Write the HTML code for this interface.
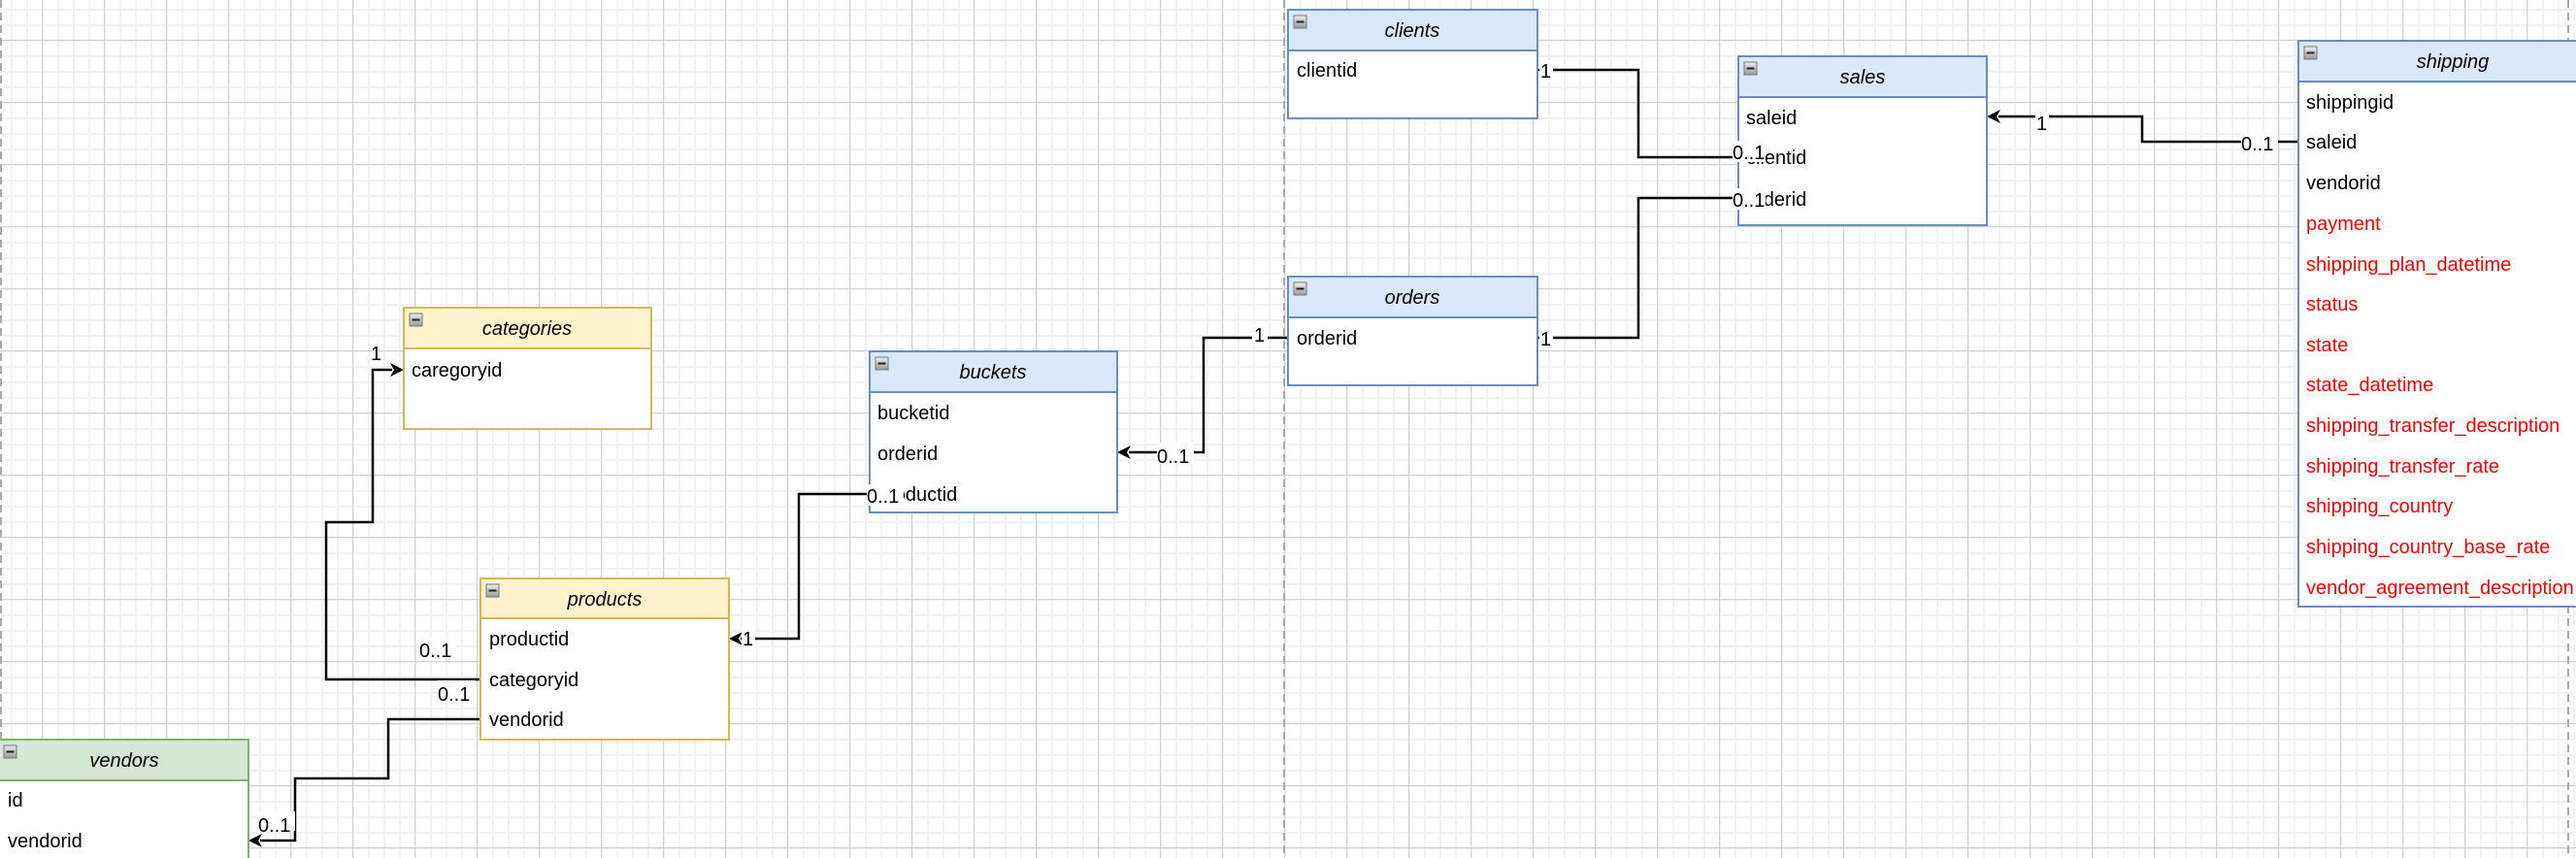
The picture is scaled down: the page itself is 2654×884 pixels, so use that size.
<!DOCTYPE html>
<html><head><meta charset="utf-8"><style>
html,body{margin:0;padding:0;}
body{width:2654px;height:884px;overflow:hidden;background-color:#fff;
background-image:linear-gradient(to right,#d0d0d0 1px,transparent 1px),linear-gradient(to bottom,#d0d0d0 1px,transparent 1px),linear-gradient(to right,#f2f2f2 2px,transparent 2px),linear-gradient(to bottom,#f2f2f2 2px,transparent 2px);
background-size:64px 64px,64px 64px,16px 16px,16px 16px;
background-position:43px 0,0 41px,11px 0,0 9px;}
svg{position:absolute;left:0;top:0;}
text{font-family:"Liberation Sans",sans-serif;font-size:20px;}
.h{font-style:italic;text-anchor:middle;}
.r{fill:#ff0000;}
</style></head><body>
<svg width="2654" height="884" viewBox="0 0 2654 884">
<defs>
<linearGradient id="g" x1="0" y1="0" x2="0" y2="1"><stop offset="0" stop-color="#eee"/><stop offset="1" stop-color="#999"/></linearGradient>
<g id="ic"><rect x="0" y="0" width="13" height="13" fill="url(#g)" stroke="#777" stroke-width="1"/><rect x="2.5" y="5.5" width="8" height="2" fill="#222"/></g>
</defs>
<line x1="1" y1="0" x2="1" y2="884" stroke="#aaa" stroke-width="2" stroke-dasharray="8 5"/>
<line x1="1323" y1="0" x2="1323" y2="884" stroke="#aaa" stroke-width="2" stroke-dasharray="8 5"/>
<line x1="2646" y1="0" x2="2646" y2="884" stroke="#aaa" stroke-width="2" stroke-dasharray="8 5"/>

<!-- connectors -->
<g fill="none" stroke="#000" stroke-width="2.5">
<polyline points="495,700 336,700 336,538 384,538 384,381 404,381"/>
<polyline points="495,741 400,741 400,802 304,802 304,866 268,866"/>
<polyline points="896,509 823,509 823,658 763,658"/>
<polyline points="1327,348 1240,348 1240,466 1163,466"/>
<polyline points="1584,72 1688,72 1688,162 1791,162"/>
<polyline points="1584,348 1688,348 1688,204 1791,204"/>
<polyline points="2368,146 2207,146 2207,120 2059,120"/>
</g>
<g fill="#000">
<path d="M416,381 L402,374 L406,381 L402,388 Z"/>
<path d="M256,866 L270,859 L266,866 L270,873 Z"/>
<path d="M751,658 L765,651 L761,658 L765,665 Z"/>
<path d="M1151,466 L1165,459 L1161,466 L1165,473 Z"/>
<path d="M2047,120 L2061,113 L2057,120 L2061,127 Z"/>
</g>

<!-- boxes -->
<g stroke-width="2">
<rect x="416" y="317" width="255" height="125" fill="#fff" stroke="#d6b656"/>
<rect x="416" y="317" width="255" height="42" fill="#fff2cc" stroke="#d6b656"/>
<rect x="495" y="596" width="256" height="166" fill="#fff" stroke="#d6b656"/>
<rect x="495" y="596" width="256" height="41" fill="#fff2cc" stroke="#d6b656"/>
<rect x="-2" y="762" width="258" height="140" fill="#fff" stroke="#82b366"/>
<rect x="-2" y="762" width="258" height="42" fill="#d5e8d4" stroke="#82b366"/>
<rect x="896" y="362" width="255" height="166" fill="#fff" stroke="#6c8ebf"/>
<rect x="896" y="362" width="255" height="42" fill="#dae8fc" stroke="#6c8ebf"/>
<rect x="1327" y="10" width="257" height="112" fill="#fff" stroke="#6c8ebf"/>
<rect x="1327" y="10" width="257" height="42" fill="#dae8fc" stroke="#6c8ebf"/>
<rect x="1327" y="285" width="257" height="112" fill="#fff" stroke="#6c8ebf"/>
<rect x="1327" y="285" width="257" height="42" fill="#dae8fc" stroke="#6c8ebf"/>
<rect x="1791" y="58" width="256" height="174" fill="#fff" stroke="#6c8ebf"/>
<rect x="1791" y="58" width="256" height="42" fill="#dae8fc" stroke="#6c8ebf"/>
<rect x="2368" y="42" width="290" height="583" fill="#fff" stroke="#6c8ebf"/>
<rect x="2368" y="42" width="290" height="42" fill="#dae8fc" stroke="#6c8ebf"/>
</g>
<use href="#ic" x="422" y="323"/>
<use href="#ic" x="501" y="602"/>
<use href="#ic" x="4" y="768"/>
<use href="#ic" x="902" y="368"/>
<use href="#ic" x="1333" y="16"/>
<use href="#ic" x="1333" y="291"/>
<use href="#ic" x="1797" y="64"/>
<use href="#ic" x="2374" y="48"/>

<text class="h" x="543" y="345">categories</text>
<text x="424" y="388">caregoryid</text>
<text class="h" x="623" y="624">products</text>
<text x="504" y="665">productid</text>
<text x="504" y="707">categoryid</text>
<text x="504" y="748">vendorid</text>
<text class="h" x="128" y="790">vendors</text>
<text x="8" y="831">id</text>
<text x="8" y="873">vendorid</text>
<text class="h" x="1023" y="390">buckets</text>
<text x="904" y="432">bucketid</text>
<text x="904" y="474">orderid</text>
<text x="904" y="516">productid</text>
<text class="h" x="1455" y="38">clients</text>
<text x="1336" y="79">clientid</text>
<text class="h" x="1455" y="313">orders</text>
<text x="1336" y="355">orderid</text>
<text class="h" x="1919" y="86">sales</text>
<text x="1799" y="128">saleid</text>
<text x="1799" y="169">clientid</text>
<text x="1799" y="212">orderid</text>
<text class="h" x="2527" y="70">shipping</text>
<g>
<text x="2376" y="112">shippingid</text>
<text x="2376" y="153">saleid</text>
<text x="2376" y="195">vendorid</text>
<text class="r" x="2376" y="237">payment</text>
<text class="r" x="2376" y="279">shipping_plan_datetime</text>
<text class="r" x="2376" y="320">status</text>
<text class="r" x="2376" y="362">state</text>
<text class="r" x="2376" y="403">state_datetime</text>
<text class="r" x="2376" y="445">shipping_transfer_description</text>
<text class="r" x="2376" y="487">shipping_transfer_rate</text>
<text class="r" x="2376" y="528">shipping_country</text>
<text class="r" x="2376" y="570">shipping_country_base_rate</text>
<text class="r" x="2376" y="612">vendor_agreement_description</text>
</g>

<!-- edge labels -->
<g fill="#fff">
<rect x="432" y="656" width="38" height="20"/>
<rect x="451" y="701" width="38" height="20"/>
<rect x="266" y="836" width="38" height="20"/>
<rect x="893" y="499" width="38" height="22"/>
<rect x="1192" y="456" width="38" height="22"/>
<rect x="1290" y="333" width="16" height="22"/>
<rect x="764" y="645" width="14" height="22"/>
<rect x="1785" y="145" width="34" height="22"/>
<rect x="1785" y="194" width="34" height="22"/>
<rect x="1586" y="62" width="14" height="22"/>
<rect x="1586" y="338" width="14" height="22"/>
<rect x="2309" y="136" width="38" height="22"/>
<rect x="2097" y="116" width="14" height="22"/>
</g>
<text x="432" y="677">0..1</text>
<text x="451" y="722">0..1</text>
<text x="266" y="857">0..1</text>
<text x="382" y="371">1</text>
<text x="893" y="518">0..1</text>
<text x="765" y="665">1</text>
<text x="1192" y="477">0..1</text>
<text x="1292" y="352">1</text>
<text x="1785" y="164">0..1</text>
<text x="1785" y="213">0..1</text>
<text x="1587" y="80">1</text>
<text x="1587" y="356">1</text>
<text x="2309" y="155">0..1</text>
<text x="2098" y="134">1</text>
</svg>
</body></html>
